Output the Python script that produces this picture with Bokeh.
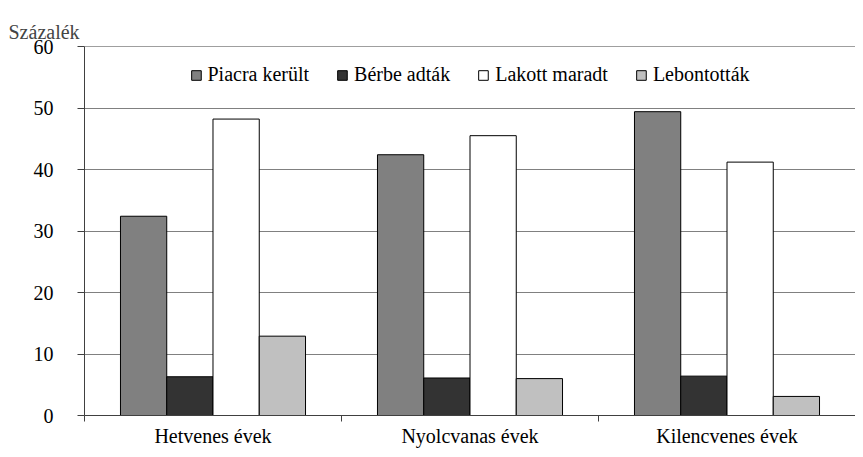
from bokeh.plotting import figure
from bokeh.models import (FactorRange, Range1d, LinearAxis, CategoricalAxis, FixedTicker,
                          Legend, LegendItem, Span, Title, ColumnDataSource)
from bokeh.transform import dodge
from bokeh.embed import file_html
from bokeh.resources import INLINE

categories = ["Hetvenes évek", "Nyolcvanas évek", "Kilencvenes évek"]
series = ["Piacra került", "Bérbe adták", "Lakott maradt", "Lebontották"]
piacra = [32.4, 42.4, 49.4]
berbe = [6.3, 6.1, 6.4]
lakott = [48.2, 45.5, 41.2]
lebont = [12.9, 6.0, 3.1]
y_ticks = [0, 10, 20, 30, 40, 50, 60]
y_label = "Százalék"

colors = ["#808080", "#333333", "#FFFFFF", "#C0C0C0"]
offsets = [-0.27, -0.09, 0.09, 0.27]
FONT = "'Liberation Serif'"
FS = "20px"

src = ColumnDataSource(dict(cat=categories, s0=piacra, s1=berbe, s2=lakott, s3=lebont))

p = figure(x_range=FactorRange(*categories, range_padding=0), y_range=Range1d(0, 60),
           width=855, height=449, output_backend="svg", toolbar_location=None,
           x_axis_location=None, min_border_left=84, min_border_right=0,
           min_border_top=46, min_border_bottom=34, outline_line_color=None,
           background_fill_color="white", border_fill_color="white")

# y axis
p.yaxis.ticker = FixedTicker(ticks=y_ticks)
p.yaxis.minor_tick_line_color = None
p.yaxis.major_tick_in = 0
p.yaxis.major_tick_out = 7
p.yaxis.major_label_standoff = 24
p.yaxis.axis_line_color = "#404040"
p.yaxis.major_tick_line_color = "#404040"
p.yaxis.major_label_text_font = FONT
p.yaxis.major_label_text_font_size = FS
p.yaxis.major_label_text_color = "black"

p.xgrid.visible = False
p.ygrid.grid_line_color = "#808080"
p.add_layout(Span(location=60, dimension="width", line_color="#404040", line_width=1))

# x axis: separator ticks at category boundaries (synthetic coordinates 0, 1, 2)
sep_axis = LinearAxis(ticker=FixedTicker(ticks=[0, 1, 2]),
                      major_label_overrides={0: "", 1: "", 2: ""},
                      major_label_text_font_size="0px", major_label_standoff=0,
                      minor_tick_line_color=None, major_tick_in=0, major_tick_out=6,
                      axis_line_color="#404040", major_tick_line_color="#404040")
p.add_layout(sep_axis, "below")
lab_axis = CategoricalAxis(major_tick_line_color=None, axis_line_color=None,
                           major_tick_in=0, major_tick_out=0,
                           major_label_standoff=3, major_label_text_font=FONT,
                           major_label_text_font_size=FS, major_label_text_color="black")
p.add_layout(lab_axis, "below")

renderers = []
for i, (name, col, off) in enumerate(zip(series, colors, offsets)):
    r = p.vbar(x=dodge("cat", off, range=p.x_range), top=f"s{i}", width=0.18, source=src,
               fill_color=col, line_color="black", line_width=1)
    renderers.append(r)

legend = Legend(items=[LegendItem(label=s, renderers=[r]) for s, r in zip(series, renderers)],
                orientation="horizontal", location="top_center", spacing=27,
                glyph_width=12, glyph_height=12, label_standoff=6,
                label_text_font=FONT, label_text_font_size=FS, label_text_color="black",
                border_line_color=None, background_fill_alpha=0, margin=17, padding=0)
p.add_layout(legend, "center")

p.title = Title(text=y_label, align="left", offset=-76, text_font=FONT,
                text_font_size=FS, text_font_style="normal", standoff=7)

open("out.html", "w").write(file_html(p, INLINE))
